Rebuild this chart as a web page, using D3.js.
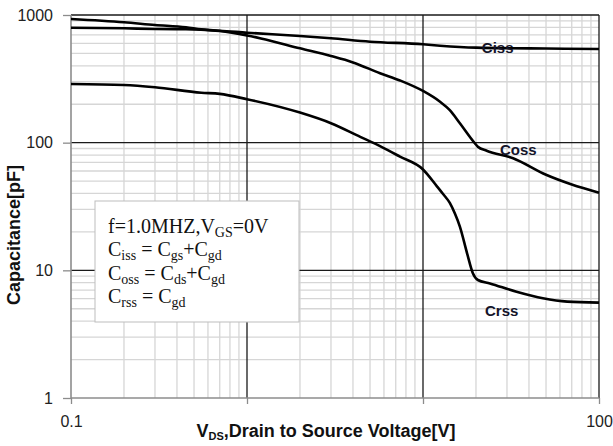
<!DOCTYPE html>
<html>
<head>
<meta charset="utf-8">
<script src="https://cdn.jsdelivr.net/npm/d3@7"></script>
<style>
body { margin: 0; background: #fff; }
text { white-space: pre; }
</style>
</head>
<body>
<div id="chart"></div>
<script>
// capacitance curves (V in volts, C in pF)
var cissV = [0.1, 0.2, 0.3, 0.45, 0.7, 1, 2, 3, 5, 10, 12.5, 20, 50, 100];
var cissC = [795, 787, 777, 773, 753, 727, 685, 657, 618, 590, 575, 555, 546, 542];

var cossV = [0.1, 0.2, 0.3, 0.45, 0.55, 0.7, 1, 1.2, 2, 3, 4, 5.7, 7.4, 10, 12.5, 14.2, 16.2, 19.7, 20.5, 23, 32.5, 50, 70, 100];
var cossC = [930, 877, 835, 801, 772, 750, 691, 655, 548, 477, 425, 350, 307, 254, 209, 180, 142, 99, 93, 86.5, 75.5, 56, 47, 40.6];

var crssV = [0.1, 0.2, 0.3, 0.55, 0.7, 1, 2, 3, 4.4, 5.7, 7.4, 10, 12, 13, 14.2, 15.2, 16.2, 17.8, 19.2, 20.5, 24, 34, 48, 66, 100];
var crssC = [288, 283, 272, 246, 241, 219, 172, 142, 111, 94, 77.7, 61.7, 45.5, 39.6, 33.7, 27.7, 22, 13.6, 9.5, 8.4, 7.9, 6.8, 6.04, 5.69, 5.59];

var xTicks = [0.1, 1, 10, 100];
var xTickLabels = ["0.1", "", "", "100"];
var yTicks = [1, 10, 100, 1000];
var yTickLabels = ["1", "10", "100", "1000"];

var seriesNames = ["Ciss", "Coss", "Crss"];
// where each curve name sits, in data units (V, pF)
var labelV = [21.6, 27.4, 22.5];
var labelC = [504, 80, 4.4];

// legend box text, [text, subscript?]
var legendText = [
    [["f=1.0MHZ,V", 0], ["GS", 1], ["=0V", 0]],
    [["C", 0], ["iss", 1], [" = C", 0], ["gs", 1], ["+C", 0], ["gd", 1]],
    [["C", 0], ["oss", 1], [" = C", 0], ["ds", 1], ["+C", 0], ["gd", 1]],
    [["C", 0], ["rss", 1], [" = C", 0], ["gd", 1]]
];

var margin = { top: 15, right: 14, bottom: 48, left: 71 },
    width = 613 - margin.left - margin.right,
    height = 446 - margin.top - margin.bottom;

var svg = d3.select("#chart").append("svg")
    .attr("width", 613)
    .attr("height", 446)
    .style("display", "block")
    .append("g")
    .attr("transform", "translate(" + margin.left + "," + margin.top + ")");

var x = d3.scaleLog().domain([0.1, 100]).range([0, width]);
var y = d3.scaleLog().domain([1, 1000]).range([height, 0]);

function isMajor(v) { return Math.abs(Math.log10(v) - Math.round(Math.log10(v))) < 1e-6; }

// grid: light minor lines first, dark decade lines on top
var xMinor = x.ticks().filter(function (d) { return !isMajor(d); });
var yMinor = y.ticks().filter(function (d) { return !isMajor(d); });

svg.selectAll(".xminor").data(xMinor).enter().append("line")
    .attr("x1", function (d) { return x(d); }).attr("x2", function (d) { return x(d); })
    .attr("y1", 0).attr("y2", height)
    .style("stroke", "#d6d6d6").style("stroke-width", 1.3);
svg.selectAll(".yminor").data(yMinor).enter().append("line")
    .attr("x1", 0).attr("x2", width)
    .attr("y1", function (d) { return y(d); }).attr("y2", function (d) { return y(d); })
    .style("stroke", "#d6d6d6").style("stroke-width", 1.3);

svg.selectAll(".xmajor").data(xTicks.slice(1)).enter().append("line")
    .attr("x1", function (d) { return x(d); }).attr("x2", function (d) { return x(d); })
    .attr("y1", 0).attr("y2", height)
    .style("stroke", "#1a1a1a").style("stroke-width", 1.3);
svg.selectAll(".ymajor").data(yTicks.slice(1)).enter().append("line")
    .attr("x1", 0).attr("x2", width)
    .attr("y1", function (d) { return y(d); }).attr("y2", function (d) { return y(d); })
    .style("stroke", "#1a1a1a").style("stroke-width", 1.3);

// axes
var yAxis = d3.axisLeft(y)
    .tickValues(yTicks)
    .tickSize(8)
    .tickPadding(10)
    .tickFormat(function (d, i) { return yTickLabels[i]; });
var gy = svg.append("g").attr("class", "y axis").call(yAxis);

var xAxis = d3.axisBottom(x)
    .tickValues(xTicks)
    .tickSize(6)
    .tickPadding(12)
    .tickFormat(function (d, i) { return xTickLabels[i]; });
var gx = svg.append("g").attr("class", "x axis")
    .attr("transform", "translate(0," + height + ")")
    .call(xAxis);

[gx, gy].forEach(function (g) {
    g.select(".domain").style("stroke", "#8c8c8c").style("stroke-width", 1.6);
    g.selectAll(".tick line").style("stroke", "#8c8c8c").style("stroke-width", 1.3);
    g.selectAll(".tick text")
        .style("font-family", "'Liberation Sans', Arial, sans-serif")
        .style("font-size", "16px")
        .style("fill", "#222");
});
gx.select(".domain").attr("d", "M0,0H" + width);
gy.select(".domain").attr("d", "M0," + height + "V0");

// curves
var line = d3.line()
    .x(function (d) { return x(d[0]); })
    .y(function (d) { return y(d[1]); })
    .curve(d3.curveMonotoneX);

var series = [d3.zip(cissV, cissC), d3.zip(cossV, cossC), d3.zip(crssV, crssC)];
svg.selectAll(".curve").data(series).enter().append("path")
    .attr("d", line)
    .style("fill", "none")
    .style("stroke", "#000")
    .style("stroke-width", 2.6)
    .style("stroke-linejoin", "round");

// curve names
svg.selectAll(".clabel").data(seriesNames).enter().append("text")
    .attr("x", function (d, i) { return x(labelV[i]); })
    .attr("y", function (d, i) { return y(labelC[i]); })
    .style("font-family", "'Liberation Sans', Arial, sans-serif")
    .style("font-weight", "bold")
    .style("font-size", "15px")
    .style("fill", "#14142a")
    .text(function (d) { return d; });

// legend box
var box = svg.append("g").attr("transform", "translate(24,186)");
box.append("rect")
    .attr("width", 204).attr("height", 121)
    .style("fill", "#fff").style("stroke", "#bdbdbd").style("stroke-width", 1);

box.selectAll(".lline").data(legendText).enter().append("text")
    .attr("x", 13)
    .attr("y", function (d, i) { return 32 + i * 23.4; })
    .style("font-family", "'Liberation Serif', 'Times New Roman', serif")
    .style("font-size", "20px")
    .style("fill", "#111")
    .each(function (parts) {
        var t = d3.select(this);
        var shifted = 0;
        parts.forEach(function (p) {
            var dy = p[1] ? 4 - shifted : -shifted;
            shifted = p[1] ? 4 : 0;
            t.append("tspan")
                .attr("dy", dy)
                .style("font-size", p[1] ? "14px" : "20px")
                .text(p[0]);
        });
    });

// axis titles
svg.append("text")
    .attr("transform", "translate(" + (20 - margin.left) + "," + 220 + ") rotate(-90)")
    .attr("text-anchor", "middle")
    .style("font-family", "'Liberation Sans', Arial, sans-serif")
    .style("font-weight", "bold")
    .style("font-size", "18px")
    .style("fill", "#111")
    .text("Capacitance[pF]");

var xt = svg.append("text")
    .attr("x", 255)
    .attr("y", height + 39)
    .attr("text-anchor", "middle")
    .style("font-family", "'Liberation Sans', Arial, sans-serif")
    .style("font-weight", "bold")
    .style("font-size", "18px")
    .style("fill", "#111");
xt.append("tspan").text("V");
xt.append("tspan").attr("dy", 3).style("font-size", "11px").text("DS");
xt.append("tspan").attr("dy", -3).text(",Drain to Source Voltage[V]");
</script>
</body>
</html>
